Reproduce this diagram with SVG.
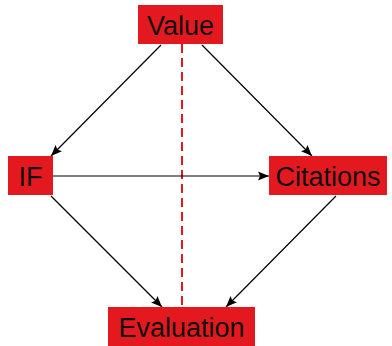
<svg xmlns="http://www.w3.org/2000/svg" width="392" height="346" viewBox="0 0 392 346">
<defs>
<marker id="ah" viewBox="0 0 11 10" refX="11" refY="5" markerWidth="11" markerHeight="10" markerUnits="userSpaceOnUse" orient="auto">
<path d="M0,0.5 L11,5 L0,9.5 L2,5 z" fill="#000"/>
</marker>
<style>
.box{fill:#e3191f}
.lbl{font-family:"Liberation Sans",Arial,sans-serif;font-size:27px;fill:#111;text-anchor:middle}
.edge{stroke:#000;stroke-width:1.2;fill:none;marker-end:url(#ah)}
.dash{stroke:#e3191f;stroke-width:2;stroke-dasharray:9,5;fill:none}
</style>
</defs>
<rect width="392" height="346" fill="#fff"/>
<g id="connectors">
<line class="dash" x1="182" y1="44" x2="182" y2="307"/>
<line class="edge" x1="161" y1="45" x2="51" y2="156"/>
<line class="edge" x1="202" y1="45" x2="312" y2="156"/>
<line class="edge" x1="53" y1="176" x2="269" y2="176"/>
<line class="edge" x1="51" y1="196" x2="162" y2="307"/>
<line class="edge" x1="336" y1="196" x2="226" y2="307"/>
</g>
<g id="value">
<rect class="box" x="138" y="5" width="85" height="39"/>
<text class="lbl" x="180.5" y="34.5">Value</text>
</g>
<g id="if">
<rect class="box" x="8" y="156" width="45" height="39"/>
<text class="lbl" x="30.5" y="185.5">IF</text>
</g>
<g id="citations">
<rect class="box" x="269" y="156" width="118" height="39"/>
<text class="lbl" x="328" y="185.5">Citations</text>
</g>
<g id="evaluation">
<rect class="box" x="108" y="307" width="147" height="39"/>
<text class="lbl" x="181.5" y="336.5">Evaluation</text>
</g>
</svg>
